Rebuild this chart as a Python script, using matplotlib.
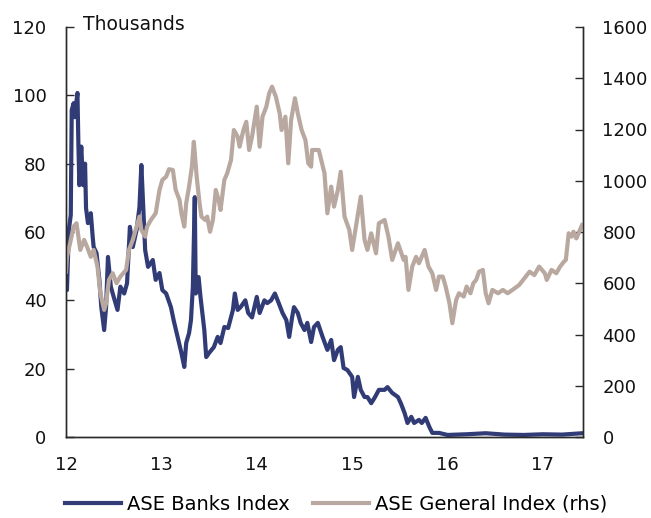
import matplotlib
matplotlib.use("Agg")
import matplotlib.pyplot as plt
import numpy as np

# ASE Banks Index (thousands, left axis)
banks_x = [12.00, 12.01, 12.03, 12.05, 12.06, 12.08, 12.09, 12.12, 12.13, 12.14, 12.16, 12.18, 12.20,
           12.21, 12.23, 12.26, 12.28, 12.29, 12.32, 12.35, 12.37, 12.40, 12.42, 12.44, 12.47,
           12.50, 12.54, 12.57, 12.61, 12.64, 12.67, 12.70, 12.74, 12.77, 12.79, 12.81, 12.83,
           12.86, 12.91, 12.94, 12.98, 13.01, 13.05, 13.10, 13.13, 13.17, 13.21, 13.24, 13.26,
           13.29, 13.31, 13.33, 13.35, 13.36, 13.39, 13.41, 13.45, 13.47, 13.50, 13.55, 13.59,
           13.62, 13.66, 13.70, 13.75, 13.77, 13.80, 13.83, 13.88, 13.91, 13.95, 14.00, 14.03,
           14.08, 14.11, 14.15, 14.19, 14.23, 14.27, 14.31, 14.34, 14.37, 14.39, 14.43, 14.46,
           14.50, 14.53, 14.57, 14.60, 14.64, 14.69, 14.74, 14.78, 14.81, 14.85, 14.88, 14.91,
           14.95, 15.00, 15.02, 15.06, 15.09, 15.13, 15.16, 15.20, 15.24, 15.28, 15.34, 15.37,
           15.42, 15.48, 15.51, 15.55, 15.58, 15.62, 15.65, 15.70, 15.73, 15.77, 15.81, 15.84,
           15.91, 16.00, 16.20, 16.40, 16.60, 16.80, 17.00, 17.20, 17.30, 17.41]
banks_y = [51, 43, 60.6, 65, 95.7, 97.7, 93.6, 100.7, 85.5, 73.7, 85, 73.7, 80,
           67, 62.6, 65.5, 58.5, 55.6, 53.8, 46, 38, 31.3, 38, 52.7, 44,
           41, 37.2, 44, 42, 45, 61.5, 55.6, 60.6, 67.3, 79.6, 67.3, 54.7,
           49.8, 51.8, 46, 48, 43, 42, 38, 34, 29.3, 24.6, 20.5, 27.5,
           30.4, 34.2, 44, 70.2, 42, 46.8, 41, 31.3, 23.4, 24.6, 26.3, 29.3,
           27.5, 32.2, 31.9, 37.2, 42, 37.2, 38, 40, 36.3, 35, 41, 36.3,
           40, 39.2, 40, 42, 39.2, 36.3, 34.2, 29.3, 35, 38, 36.3, 33.4,
           31.3, 33.4, 27.8, 32.2, 33.4, 29.3, 25.5, 28.4, 22.5, 25.5, 26.3, 20.2,
           19.6, 17.6, 11.7, 17.6, 13.8, 11.7, 11.7, 9.9, 11.7, 13.8, 13.8, 14.6,
           12.9, 11.7, 9.9, 7, 4.1, 5.9, 4.1, 5, 4.1, 5.6, 2.9, 1.2,
           1.2, 0.6, 0.8, 1.1, 0.7, 0.6, 0.8, 0.7, 0.9, 1.1]

# ASE General Index (right axis)
gen_x = [12.00, 12.01, 12.05, 12.08, 12.11, 12.13, 12.15, 12.19, 12.22, 12.26, 12.29, 12.33,
         12.36, 12.40, 12.42, 12.45, 12.49, 12.53, 12.57, 12.63, 12.66, 12.70, 12.73, 12.77,
         12.79, 12.83, 12.85, 12.89, 12.94, 12.98, 13.01, 13.05, 13.08, 13.12, 13.15, 13.19,
         13.21, 13.24, 13.26, 13.29, 13.32, 13.34, 13.37, 13.40, 13.42, 13.46, 13.48, 13.51,
         13.54, 13.57, 13.60, 13.62, 13.66, 13.69, 13.73, 13.76, 13.80, 13.82, 13.86, 13.89,
         13.92, 13.95, 14.00, 14.03, 14.06, 14.10, 14.13, 14.16, 14.20, 14.24, 14.26, 14.30,
         14.33, 14.36, 14.40, 14.43, 14.47, 14.51, 14.54, 14.57, 14.58, 14.65, 14.71, 14.74,
         14.78, 14.81, 14.85, 14.88, 14.92, 14.97, 15.00, 15.05, 15.09, 15.13, 15.16, 15.20,
         15.25, 15.28, 15.34, 15.38, 15.42, 15.48, 15.54, 15.56, 15.59, 15.63, 15.67, 15.70,
         15.76, 15.80, 15.84, 15.88, 15.91, 15.95, 15.98, 16.02, 16.05, 16.09, 16.12, 16.17,
         16.20, 16.24, 16.27, 16.30, 16.33, 16.37, 16.40, 16.43, 16.47, 16.53, 16.58, 16.63,
         16.68, 16.75, 16.82, 16.86, 16.91, 16.96, 17.02, 17.04, 17.09, 17.14, 17.18, 17.22,
         17.24, 17.27, 17.30, 17.32, 17.35, 17.38, 17.41]
gen_y = [645, 703, 769, 821, 834, 782, 730, 769, 743, 703, 730, 665,
         561, 496, 522, 613, 639, 600, 626, 652, 730, 769, 808, 860,
         808, 782, 821, 847, 873, 964, 1003, 1016, 1045, 1042, 964, 925,
         873, 821, 912, 977, 1055, 1152, 1016, 912, 860, 847, 860, 801,
         847, 964, 925, 886, 1003, 1029, 1081, 1198, 1172, 1133, 1198, 1230,
         1120, 1172, 1289, 1133, 1250, 1289, 1341, 1367, 1328, 1263, 1198, 1250,
         1068, 1237, 1322, 1263, 1198, 1159, 1068, 1055, 1120, 1120, 1029, 873,
         977, 899, 964, 1035, 860, 808, 730, 847, 938, 769, 730, 795,
         717, 834, 847, 782, 691, 756, 691, 703, 574, 665, 703, 678,
         730, 665, 639, 574, 626, 626, 587, 522, 444, 535, 561, 548,
         587, 561, 600, 613, 645, 652, 561, 522, 574, 561, 574, 561,
         574, 593, 626, 645, 632, 665, 639, 613, 652, 639, 665, 684,
         691, 795, 782, 801, 775, 801, 827]

x_ticks = [12, 13, 14, 15, 16, 17]
x_labels = ["12", "13", "14", "15", "16", "17"]
left_ticks = [0, 20, 40, 60, 80, 100, 120]
right_ticks = [0, 200, 400, 600, 800, 1000, 1200, 1400, 1600]

NAVY = "#313c77"
BEIGE = "#b8a89f"
SPINE = "#2a2a2a"
FS = 13

plt.rcParams["font.family"] = ["DejaVu Sans"]

fig = plt.figure(figsize=(6.51, 5.18), dpi=100)
ax = fig.add_axes([66 / 651, 1 - 437 / 518, (583 - 66) / 651, (437 - 27) / 518])
ax2 = ax.twinx()

l1, = ax.plot(banks_x, banks_y, color=NAVY, lw=3.0, solid_joinstyle="round",
              label="ASE Banks Index")
l2, = ax2.plot(gen_x, gen_y, color=BEIGE, lw=3.0, solid_joinstyle="round",
               label="ASE General Index (rhs)")

ax.set_xlim(12, 17.42)
ax.set_ylim(0, 120)
ax2.set_ylim(0, 1600)
ax.set_xticks(x_ticks)
ax.set_xticklabels(x_labels)
ax.set_yticks(left_ticks)
ax2.set_yticks(right_ticks)

for a in (ax, ax2):
    a.spines["top"].set_visible(False)
    for s in ("left", "right", "bottom"):
        a.spines[s].set_color(SPINE)
        a.spines[s].set_linewidth(1.0)

ax.tick_params(axis="y", direction="in", length=6, width=1, color=SPINE,
               labelsize=FS, pad=14, labelcolor="#111111")
ax2.tick_params(axis="y", direction="in", length=6, width=1, color=SPINE,
                labelsize=FS, pad=14, labelcolor="#111111")
ax.tick_params(axis="x", length=0, labelsize=FS, pad=14, labelcolor="#111111")

ax.text(0.033, 1.005, "Thousands", transform=ax.transAxes, fontsize=13.5,
        ha="left", va="center", color="#111111")

fig.legend(handles=[l1, l2], loc="center", bbox_to_anchor=(0.516, 1 - 504 / 518),
           ncol=2, frameon=False, fontsize=14, handlelength=2.9,
           handletextpad=0.3, columnspacing=1.2)

fig.savefig("out.png", dpi=100)
